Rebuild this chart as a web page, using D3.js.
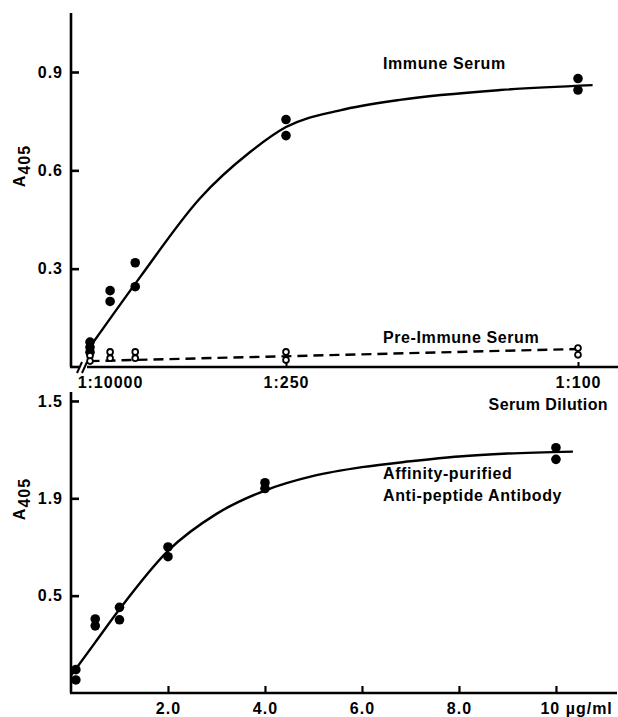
<!DOCTYPE html>
<html><head><meta charset="utf-8">
<script src="https://cdn.jsdelivr.net/npm/d3@7"></script>
<style>
body{margin:0;background:#fff}
svg text{font-family:"Liberation Sans",Arial,sans-serif;font-weight:bold;font-size:16px;fill:#000;letter-spacing:1px}
</style></head><body>
<script>
// ---- Top panel data (x = 1/dilution) ----
const topTickVals = [1/10000, 1/250, 1/100];
const topTickLabels = ["1:10000", "1:250", "1:100"];
const topYTicks = [0.3, 0.6, 0.9];
const immuneX = [1/10000, 1/10000, 1/10000, 1/2000, 1/2000, 1/1000, 1/1000, 1/250, 1/250, 1/100, 1/100];
const immuneY = [0.076, 0.060, 0.045, 0.233, 0.200, 0.318, 0.245, 0.755, 0.706, 0.880, 0.845];
const preX = [1/10000, 1/10000, 1/2000, 1/2000, 1/1000, 1/1000, 1/250, 1/250, 1/100, 1/100];
const preY = [0.034, 0.018, 0.046, 0.027, 0.046, 0.027, 0.046, 0.021, 0.058, 0.037];
const immuneFitX = [0.00014, 0.0011, 0.00229, 0.00328, 0.004, 0.00511, 0.00634, 0.0084, 0.0103];
const immuneFitY = [0.070, 0.275, 0.515, 0.655, 0.732, 0.783, 0.815, 0.845, 0.860];
const preFitX = [0.00009, 1/100];
const preFitY = [0.018, 0.055];

// ---- Bottom panel data (µg/ml) ----
const botXTicks = [2, 4, 6, 8, 10];
const botXLabels = ["2.0", "4.0", "6.0", "8.0", "10 µg/ml"];
const botYTicks = [0.5, 1.0, 1.5];
const botYLabels = ["0.5", "1.9", "1.5"];
const abX = [0.1, 0.1, 0.5, 0.5, 1.0, 1.0, 2.0, 2.0, 4.0, 4.0, 10, 10];
const abY = [0.120, 0.067, 0.380, 0.345, 0.440, 0.376, 0.750, 0.700, 1.080, 1.050, 1.260, 1.200];
const abFitX = [0, 0.5, 1.0, 2.0, 3.0, 4.0, 5.0, 6.0, 7.0, 8.0, 9.0, 10.35];
const abFitY = [0.09, 0.26, 0.43, 0.73, 0.92, 1.04, 1.115, 1.16, 1.19, 1.215, 1.23, 1.24];

const W = 618, H = 717;
const svg = d3.select("body").append("svg").attr("width", W).attr("height", H);

// ===== TOP PANEL =====
const xT = d3.scaleLinear().domain([1/10000, 1/250, 1/100]).range([90, 286, 578]);
const yT = d3.scaleLinear().domain([0, 1.08]).range([367, 13]);
const gT = svg.append("g");

gT.append("line").attr("x1", 71).attr("x2", 71).attr("y1", yT(1.08)).attr("y2", yT(0)).attr("stroke", "#000").attr("stroke-width", 2.6);
gT.append("line").attr("x1", 70).attr("x2", 79).attr("y1", yT(0)).attr("y2", yT(0)).attr("stroke", "#000").attr("stroke-width", 2.6);
gT.append("line").attr("x1", 87).attr("x2", 618).attr("y1", yT(0)).attr("y2", yT(0)).attr("stroke", "#000").attr("stroke-width", 2.6);
[79, 84].forEach(bx => {
  gT.append("line").attr("x1", bx - 2).attr("x2", bx + 3).attr("y1", yT(0) + 6).attr("y2", yT(0) - 5).attr("stroke", "#000").attr("stroke-width", 2);
});

const yAxT = d3.axisLeft(yT).tickValues(topYTicks).tickFormat(d3.format(".1f")).tickSizeInner(-8).tickSizeOuter(0).tickPadding(8);
const gyT = gT.append("g").attr("transform", "translate(71,0)").call(yAxT);
gyT.select(".domain").remove();
gyT.selectAll(".tick line").attr("stroke-width", 2.6);
gyT.selectAll(".tick text").attr("font-size", null).attr("font-family", null);

const xAxT = d3.axisBottom(xT).tickValues(topTickVals).tickFormat((d, i) => topTickLabels[i]).tickSizeInner(-5).tickSizeOuter(0).tickPadding(10);
const gxT = gT.append("g").attr("transform", `translate(0,${yT(0)})`).call(xAxT);
gxT.select(".domain").remove();
gxT.selectAll(".tick line").attr("stroke-width", 2);
gxT.selectAll(".tick text").attr("font-size", null).attr("font-family", null)
   .attr("dx", (d, i) => i === 0 ? 20 : 0);
gxT.select(".tick line").attr("stroke", "none");

gT.append("path").datum(immuneFitX.map((x, i) => [x, immuneFitY[i]]))
  .attr("d", d3.line().x(d => xT(d[0])).y(d => yT(d[1])).curve(d3.curveMonotoneX))
  .attr("fill", "none").attr("stroke", "#000").attr("stroke-width", 2.4);
gT.append("path").datum(preFitX.map((x, i) => [x, preFitY[i]]))
  .attr("d", d3.line().x(d => xT(d[0])).y(d => yT(d[1])))
  .attr("fill", "none").attr("stroke", "#000").attr("stroke-width", 2.4).attr("stroke-dasharray", "10,6");

gT.selectAll(".imm").data(immuneX.map((x, i) => [x, immuneY[i]])).enter().append("circle")
  .attr("cx", d => xT(d[0])).attr("cy", d => yT(d[1])).attr("r", 4.8).attr("fill", "#000");
gT.selectAll(".pre").data(preX.map((x, i) => [x, preY[i]])).enter().append("circle")
  .attr("cx", d => xT(d[0])).attr("cy", d => yT(d[1])).attr("r", 2.9)
  .attr("fill", "#fff").attr("stroke", "#000").attr("stroke-width", 1.8);

gT.append("text").attr("x", 383).attr("y", 69).style("letter-spacing", "0.6px").text("Immune Serum");
gT.append("text").attr("x", 383).attr("y", 343).style("letter-spacing", "0.6px").text("Pre-Immune Serum");
gT.append("text").attr("x", 608).attr("y", 410).attr("text-anchor", "end").style("letter-spacing", "0.4px").text("Serum Dilution");
const yl1 = gT.append("text").attr("transform", "translate(25,166) rotate(-90)").attr("text-anchor", "middle");
yl1.append("tspan").text("A");
yl1.append("tspan").attr("dy", 5).text("405");

// ===== BOTTOM PANEL =====
const xB = d3.scaleLinear().domain([0, 11.3]).range([71, 619]);
const yB = d3.scaleLinear().domain([0, 1.546]).range([693, 392]);
const gB = svg.append("g");

gB.append("line").attr("x1", 71).attr("x2", 71).attr("y1", yB(1.546)).attr("y2", yB(0)).attr("stroke", "#000").attr("stroke-width", 2.6);
gB.append("line").attr("x1", 70).attr("x2", 617).attr("y1", yB(0)).attr("y2", yB(0)).attr("stroke", "#000").attr("stroke-width", 2.6);

const yAxB = d3.axisLeft(yB).tickValues(botYTicks).tickFormat((d, i) => botYLabels[i]).tickSizeInner(-8).tickSizeOuter(0).tickPadding(8);
const gyB = gB.append("g").attr("transform", "translate(71,0)").call(yAxB);
gyB.select(".domain").remove();
gyB.selectAll(".tick line").attr("stroke-width", 2.6);
gyB.selectAll(".tick text").attr("font-size", null).attr("font-family", null);

const xAxB = d3.axisBottom(xB).tickValues(botXTicks).tickFormat((d, i) => botXLabels[i]).tickSizeInner(-7).tickSizeOuter(0).tickPadding(10);
const gxB = gB.append("g").attr("transform", `translate(0,${yB(0)})`).call(xAxB);
gxB.select(".domain").remove();
gxB.selectAll(".tick line").attr("stroke-width", 2.2);
gxB.selectAll(".tick text").attr("font-size", null).attr("font-family", null);
gxB.selectAll(".tick text").filter((d, i) => i === botXTicks.length - 1)
   .attr("text-anchor", "start").attr("dx", -16);

gB.append("path").datum(abFitX.map((x, i) => [x, abFitY[i]]))
  .attr("d", d3.line().x(d => xB(d[0])).y(d => yB(d[1])).curve(d3.curveMonotoneX))
  .attr("fill", "none").attr("stroke", "#000").attr("stroke-width", 2.4);

gB.selectAll(".ab").data(abX.map((x, i) => [x, abY[i]])).enter().append("circle")
  .attr("cx", d => xB(d[0])).attr("cy", d => yB(d[1])).attr("r", 4.8).attr("fill", "#000");

gB.append("text").attr("x", 383).attr("y", 479).style("letter-spacing", "0.6px").text("Affinity-purified");
gB.append("text").attr("x", 383).attr("y", 501).style("letter-spacing", "0.6px").text("Anti-peptide Antibody");
const yl2 = gB.append("text").attr("transform", "translate(25,499) rotate(-90)").attr("text-anchor", "middle");
yl2.append("tspan").text("A");
yl2.append("tspan").attr("dy", 5).text("405");
</script>
</body></html>
